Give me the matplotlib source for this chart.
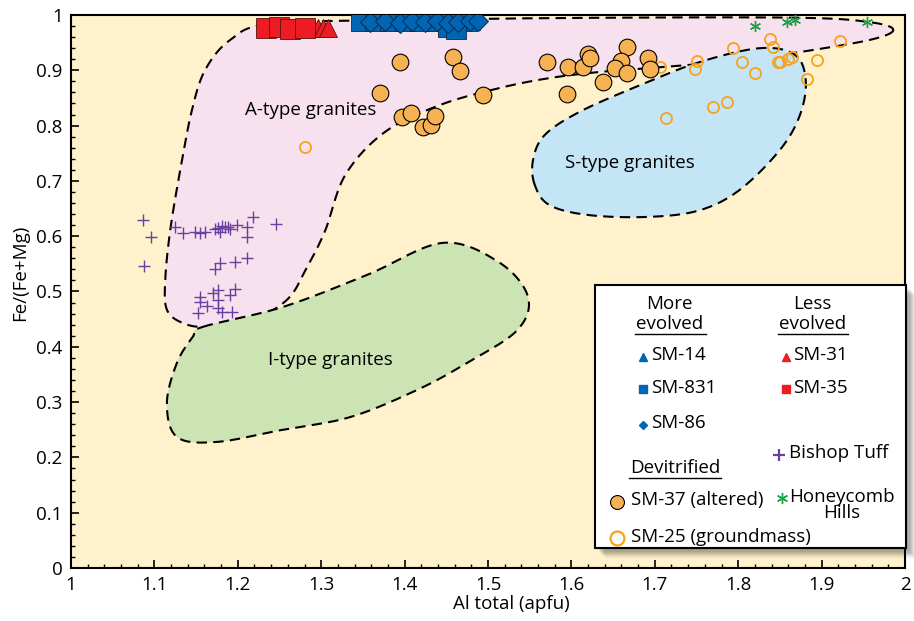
import numpy as np
import matplotlib
matplotlib.use("Agg")
import matplotlib.pyplot as plt
from matplotlib.patches import Polygon, Rectangle
from matplotlib.lines import Line2D
from matplotlib.ticker import MultipleLocator, FuncFormatter

plt.rcParams['font.family'] = ['Open Sans', 'DejaVu Sans']

# granite fields (outline vertices, Al total vs Fe/(Fe+Mg))
a_type_x = [1.986, 1.958, 1.874, 1.802, 1.694, 1.634, 1.574, 1.514, 1.442, 1.376,
            1.329, 1.305, 1.283, 1.259, 1.215, 1.163, 1.134, 1.115, 1.113, 1.119,
            1.131, 1.145, 1.161, 1.191, 1.239, 1.394, 1.634, 1.874, 1.958]
a_type_y = [0.973, 0.955, 0.933, 0.918, 0.904, 0.897, 0.886, 0.868, 0.837, 0.788,
            0.711, 0.611, 0.544, 0.485, 0.448, 0.436, 0.443, 0.467, 0.521, 0.611,
            0.720, 0.828, 0.901, 0.955, 0.984, 0.991, 0.995, 0.995, 0.987]
s_type_x = [1.556, 1.554, 1.568, 1.610, 1.682, 1.754, 1.826, 1.868, 1.881, 1.874,
            1.850, 1.802, 1.754, 1.694, 1.622, 1.574]
s_type_y = [0.693, 0.738, 0.783, 0.825, 0.873, 0.915, 0.940, 0.928, 0.882, 0.819,
            0.756, 0.684, 0.647, 0.635, 0.638, 0.656]
i_type_x = [1.158, 1.254, 1.355, 1.446, 1.514, 1.548, 1.535, 1.475, 1.415, 1.335,
            1.254, 1.175, 1.127, 1.115, 1.127, 1.146]
i_type_y = [0.436, 0.472, 0.530, 0.588, 0.552, 0.490, 0.430, 0.371, 0.322, 0.273,
            0.250, 0.228, 0.237, 0.298, 0.371, 0.418]

# samples
sm31_x = [1.296, 1.302, 1.308]
sm31_y = [0.977, 0.976, 0.977]
sm35_x = [1.234, 1.249, 1.263, 1.281]
sm35_y = [0.977, 0.978, 0.975, 0.976]
sm14_x = [1.470, 1.480]
sm14_y = [0.990, 0.989]
sm831_x = [1.348, 1.365, 1.383, 1.401, 1.419, 1.436, 1.454, 1.475, 1.452, 1.462]
sm831_y = [0.990, 0.990, 0.989, 0.990, 0.990, 0.989, 0.990, 0.990, 0.978, 0.975]
sm86_x = [1.359, 1.377, 1.394, 1.409, 1.424, 1.439, 1.452, 1.464, 1.479, 1.488]
sm86_y = [0.988, 0.990, 0.986, 0.989, 0.987, 0.990, 0.986, 0.988, 0.990, 0.989]
sm37_x = [1.394, 1.458, 1.466, 1.371, 1.397, 1.408, 1.422, 1.432, 1.436, 1.494,
          1.571, 1.596, 1.614, 1.620, 1.622, 1.595, 1.638, 1.667, 1.659, 1.652,
          1.667, 1.692, 1.694]
sm37_y = [0.915, 0.924, 0.899, 0.859, 0.816, 0.823, 0.797, 0.801, 0.817, 0.855,
          0.915, 0.906, 0.906, 0.929, 0.922, 0.857, 0.879, 0.942, 0.917, 0.904,
          0.895, 0.922, 0.902]
sm25_x = [1.281, 1.640, 1.706, 1.751, 1.748, 1.794, 1.805, 1.820, 1.838, 1.842,
          1.848, 1.850, 1.860, 1.865, 1.894, 1.882, 1.922, 1.770, 1.787, 1.713]
sm25_y = [0.761, 0.879, 0.906, 0.917, 0.902, 0.940, 0.915, 0.895, 0.957, 0.942,
          0.915, 0.915, 0.920, 0.924, 0.919, 0.884, 0.953, 0.834, 0.843, 0.814]
bishop_x = [1.086, 1.096, 1.088, 1.125, 1.134, 1.149, 1.155, 1.161, 1.173, 1.176,
            1.181, 1.185, 1.188, 1.191, 1.179, 1.199, 1.211, 1.218, 1.246, 1.211,
            1.211, 1.197, 1.179, 1.173, 1.197, 1.191, 1.176, 1.170, 1.155, 1.155,
            1.176, 1.163, 1.176, 1.181, 1.193, 1.152]
bishop_y = [0.629, 0.599, 0.546, 0.617, 0.606, 0.608, 0.606, 0.608, 0.613, 0.615,
            0.618, 0.617, 0.617, 0.613, 0.608, 0.620, 0.617, 0.635, 0.622, 0.599,
            0.561, 0.553, 0.552, 0.541, 0.505, 0.494, 0.503, 0.497, 0.490, 0.481,
            0.485, 0.474, 0.470, 0.463, 0.463, 0.461]
honey_x = [1.820, 1.859, 1.868, 1.954]
honey_y = [0.980, 0.987, 0.991, 0.987]

RED = '#ED1C24'
BLUE = '#0066B3'
ORANGE_FILL = '#F6B153'
ORANGE = '#F7A21B'
PURPLE = '#6B3FA0'
GREEN = '#1BA24B'


def smooth_closed(xs, ys, n=30):
    p = np.column_stack([xs, ys])
    m = len(p)
    t = np.linspace(0, 1, n, endpoint=False)[:, None]
    out = []
    for i in range(m):
        p0, p1, p2, p3 = p[i - 1], p[i], p[(i + 1) % m], p[(i + 2) % m]
        out.append(0.5 * (2 * p1 + (-p0 + p2) * t
                          + (2 * p0 - 5 * p1 + 4 * p2 - p3) * t ** 2
                          + (-p0 + 3 * p1 - 3 * p2 + p3) * t ** 3))
    out = np.vstack(out)
    return np.vstack([out, out[:1]])


fig = plt.figure(figsize=(9.14, 6.21), dpi=100)
ax = fig.add_axes([71 / 914, 53 / 621, 834 / 914, 553 / 621])
ax.set_facecolor('#FEF1CB')

for fx, fy, col, z in [(a_type_x, a_type_y, '#F8E1EE', 1),
                       (s_type_x, s_type_y, '#C3E5F6', 2),
                       (i_type_x, i_type_y, '#CCE3B4', 3)]:
    pts = smooth_closed(fx, fy)
    ax.add_patch(Polygon(pts, closed=True, facecolor=col, edgecolor='none', zorder=z))
    ax.plot(pts[:, 0], pts[:, 1], color='black', lw=1.5, dashes=(5, 3), zorder=z + 0.5)

ax.text(1.287, 0.828, 'A-type granites', fontsize=13.5, ha='center', va='center', zorder=6)
ax.text(1.670, 0.732, 'S-type granites', fontsize=13.5, ha='center', va='center', zorder=6)
ax.text(1.311, 0.376, 'I-type granites', fontsize=13.5, ha='center', va='center', zorder=6)

ax.plot(bishop_x, bishop_y, '+', color=PURPLE, ms=8, mew=1.0, ls='none', zorder=7)
ax.plot(sm25_x, sm25_y, 'o', mfc='none', mec=ORANGE, ms=8, mew=1.3, ls='none', zorder=7)
ax.plot(sm37_x, sm37_y, 'o', mfc=ORANGE_FILL, mec='black', ms=12, mew=0.8, ls='none', zorder=8)
ax.plot(honey_x, honey_y, marker=(6, 2, 0), color=GREEN, ms=8, mew=1.0, ls='none', zorder=8)
ax.plot(sm31_x, sm31_y, '^', color=RED, mec='#5a1010', ms=13, mew=0.6, ls='none', zorder=8)
ax.plot(sm35_x, sm35_y, 's', color=RED, mec='#5a1010', ms=14.5, mew=0.6, ls='none', zorder=9)
ax.plot(sm14_x, sm14_y, '^', color=BLUE, mec='#0a2a50', ms=13, mew=0.6, ls='none', zorder=8)
ax.plot(sm831_x, sm831_y, 's', color=BLUE, mec='#0a2a50', ms=15, mew=0.6, ls='none', zorder=9)
ax.plot(sm86_x, sm86_y, 'D', color=BLUE, mec='#0a2a50', ms=10.5, mew=0.7, ls='none', zorder=10)

ax.set_xlim(1, 2)
ax.set_ylim(0, 1)
ax.xaxis.set_major_locator(MultipleLocator(0.1))
ax.xaxis.set_minor_locator(MultipleLocator(0.02))
ax.yaxis.set_major_locator(MultipleLocator(0.1))
ax.yaxis.set_minor_locator(MultipleLocator(0.02))
fmt = FuncFormatter(lambda v, p: '%g' % round(v, 2))
ax.xaxis.set_major_formatter(fmt)
ax.yaxis.set_major_formatter(fmt)
ax.tick_params(which='both', direction='in', top=False, right=False, labelsize=13.5)
ax.tick_params(which='major', length=6, width=1.2)
ax.tick_params(which='minor', length=3, width=1.0)
ax.tick_params(axis='x', pad=6)
ax.tick_params(axis='y', pad=6)
for s in ax.spines.values():
    s.set_linewidth(1.5)
ax.set_xlabel('Al total (apfu)', fontsize=13.5)
ax.set_ylabel('Fe/(Fe+Mg)', fontsize=13.5)
ax.xaxis.set_label_coords(0.528, -0.066)
ax.xaxis.label.set_va('center')
ax.yaxis.set_label_coords(-0.061, 0.533)
ax.yaxis.label.set_va('center')


# legend drawn by hand
def axp(px, py):
    return ((px - 71) / 834, (568 - py) / 553)


x0, y0 = axp(595, 548)
x1, y1 = axp(906, 285)
for k in range(8, 0, -1):
    off = k * 1.2 / 834
    ax.add_patch(Rectangle((x0 + off, y0 - off * 834 / 553), x1 - x0, y1 - y0,
                           transform=ax.transAxes, facecolor='black', alpha=0.06,
                           edgecolor='none', zorder=20, clip_on=False))
ax.add_patch(Rectangle((x0, y0), x1 - x0, y1 - y0, transform=ax.transAxes,
                       facecolor='white', edgecolor='black', lw=1.5, zorder=21,
                       clip_on=False))


def ltext(px, py, s, ha='left', **kw):
    ax.text(*axp(px, py), s, transform=ax.transAxes, fontsize=13.5, ha=ha,
            va='center', zorder=23, **kw)


def uline(pxa, pxb, py):
    xa, ya = axp(pxa, py)
    xb, _ = axp(pxb, py)
    ax.add_line(Line2D([xa, xb], [ya, ya], transform=ax.transAxes, color='black',
                       lw=1.0, zorder=23))


def lmark(px, py, **kw):
    ax.plot(*axp(px, py), transform=ax.transAxes, ls='none', zorder=23,
            clip_on=False, **kw)


ltext(669, 304, 'More', 'center')
ltext(670, 324, 'evolved', 'center')
uline(635, 706, 334)
ltext(812, 304, 'Less', 'center')
ltext(813, 324, 'evolved', 'center')
uline(778, 848, 334)

lmark(643, 357, marker='^', color=BLUE, ms=6)
ltext(651, 355, 'SM-14')
lmark(643, 389, marker='s', color=BLUE, ms=6)
ltext(651, 388, 'SM-831')
lmark(643, 425, marker='D', color=BLUE, ms=4.5)
ltext(651, 423, 'SM-86')
lmark(786, 357, marker='^', color=RED, ms=6)
ltext(793, 355, 'SM-31')
lmark(786, 389, marker='s', color=RED, ms=6)
ltext(793, 388, 'SM-35')
lmark(779, 455, marker='+', color=PURPLE, ms=9, mew=1.6)
ltext(789, 453, 'Bishop Tuff')

ltext(675, 468, 'Devitrified', 'center')
uline(629, 721, 478)
lmark(617, 502, marker='o', mfc=ORANGE_FILL, mec='black', ms=10, mew=0.8)
ltext(631, 500, 'SM-37 (altered)')
lmark(782, 498, marker=(6, 2, 0), color=GREEN, ms=8, mew=1.0)
ltext(789, 505, 'Honeycomb\nHills', multialignment='center', linespacing=0.85)
lmark(617, 538, marker='o', mfc='none', mec=ORANGE, ms=10, mew=1.6)
ltext(631, 537, 'SM-25 (groundmass)')

fig.savefig('out.png', dpi=100)
